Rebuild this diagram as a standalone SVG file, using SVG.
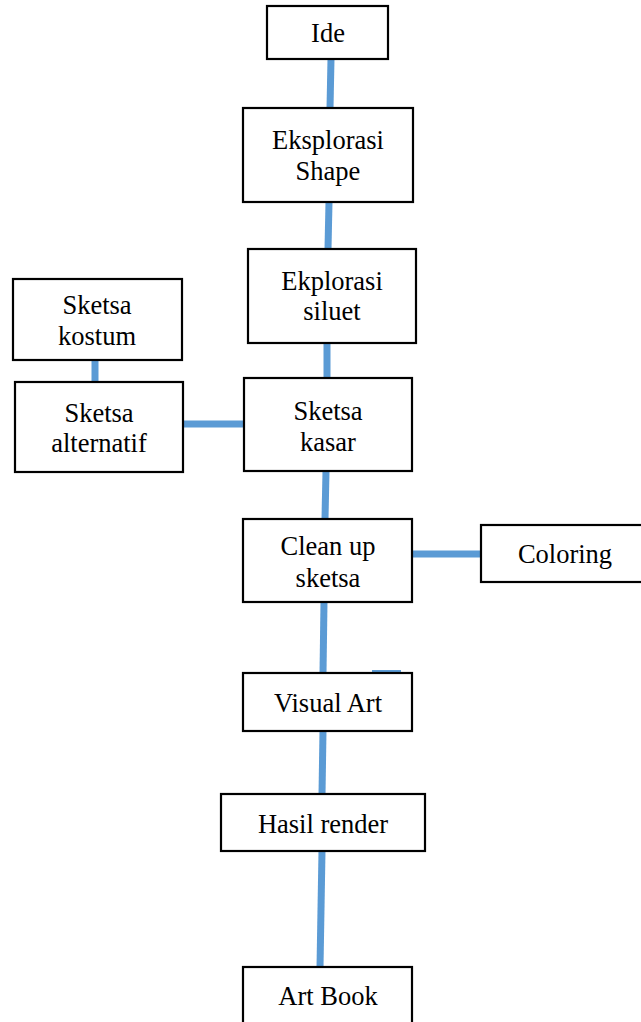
<svg xmlns="http://www.w3.org/2000/svg" width="641" height="1022" viewBox="0 0 641 1022">
<style>
.box{fill:#fff;stroke:#000;stroke-width:2.2}
.t{font-family:"Liberation Serif","Times New Roman",serif;font-size:26.5px;fill:#000;text-anchor:middle}
.c{stroke:#5B9BD5;stroke-width:7;fill:none}
</style>
<rect width="641" height="1022" fill="#fff"/>
<g id="connectors">
<line class="c" x1="331" y1="59" x2="330" y2="108"/>
<line class="c" x1="329" y1="202" x2="328" y2="249"/>
<line class="c" x1="327" y1="343" x2="327" y2="378"/>
<line class="c" x1="95" y1="360" x2="95" y2="382"/>
<line class="c" x1="183" y1="424" x2="244" y2="424"/>
<line class="c" x1="326" y1="471" x2="325" y2="519"/>
<line class="c" x1="412" y1="554" x2="481" y2="554"/>
<line class="c" x1="324" y1="602" x2="323" y2="673"/>
<line class="c" x1="372" y1="671.5" x2="401" y2="671.5" style="stroke-width:3"/>
<line class="c" x1="323" y1="731" x2="322" y2="795"/>
<line class="c" x1="322" y1="851" x2="320" y2="967"/>
</g>
<g id="ide"><rect class="box" x="267" y="6" width="121" height="53"/><text class="t" x="328" y="42">Ide</text></g>
<g id="eksplorasi-shape"><rect class="box" x="243" y="108" width="170" height="94"/><text class="t" x="328" y="149">Eksplorasi</text><text class="t" x="328" y="180">Shape</text></g>
<g id="ekplorasi-siluet"><rect class="box" x="248" y="249" width="168" height="94"/><text class="t" x="332" y="290">Ekplorasi</text><text class="t" x="332" y="320">siluet</text></g>
<g id="sketsa-kostum"><rect class="box" x="13" y="279" width="169" height="81"/><text class="t" x="97" y="314">Sketsa</text><text class="t" x="97" y="345">kostum</text></g>
<g id="sketsa-alternatif"><rect class="box" x="15" y="382" width="168" height="90"/><text class="t" x="99" y="422">Sketsa</text><text class="t" x="99" y="452">alternatif</text></g>
<g id="sketsa-kasar"><rect class="box" x="244" y="378" width="168" height="93"/><text class="t" x="328" y="420">Sketsa</text><text class="t" x="328" y="451">kasar</text></g>
<g id="clean-up"><rect class="box" x="243" y="519" width="169" height="83"/><text class="t" x="328" y="555">Clean up</text><text class="t" x="328" y="587">sketsa</text></g>
<g id="coloring"><rect class="box" x="481" y="525" width="168" height="57"/><text class="t" x="565" y="563">Coloring</text></g>
<g id="visual-art"><rect class="box" x="243" y="673" width="169" height="58"/><text class="t" x="328" y="712">Visual Art</text></g>
<g id="hasil-render"><rect class="box" x="221" y="794" width="204" height="57"/><text class="t" x="323" y="833">Hasil render</text></g>
<g id="art-book"><rect class="box" x="243" y="967" width="169" height="70"/><text class="t" x="328" y="1005">Art Book</text></g>
</svg>
